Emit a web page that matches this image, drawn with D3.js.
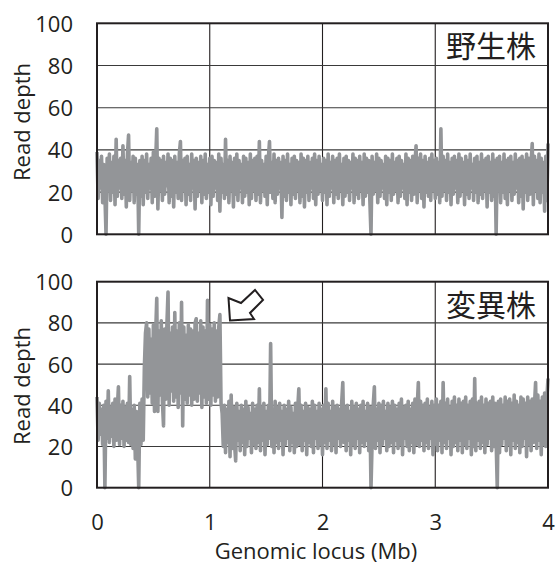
<!DOCTYPE html>
<html><head><meta charset="utf-8">
<script src="https://cdn.jsdelivr.net/npm/d3@7"></script>
<style>body{margin:0;background:#fff}svg{display:block}</style>
</head><body>
<script>
// read depth sampled every 0.01 Mb from 0 to 4 Mb
const xStepMb = 0.01;
const xTicks = [0, 1, 2, 3, 4];
const yTicks = [0, 20, 40, 60, 80, 100];
const panelLabels = ["野生株", "変異株"];
const yTitle = "Read depth";
const xTitle = "Genomic locus (Mb)";

const wildDepth = [
 39,17,35,22,37,15,33,19,0,36,21,38,16,34,20,37,14,45,18,35,
 22,36,17,42,19,35,13,38,47,16,34,21,37,15,36,19,33,0,35,18,
 37,14,35,20,38,17,33,22,36,15,39,18,34,50,12,36,21,35,16,37,
 19,34,23,38,15,36,18,35,13,37,20,34,17,38,44,16,35,21,36,14,
 37,19,33,16,38,22,35,12,36,18,34,21,37,15,35,19,38,17,33,20,
 36,14,37,18,35,22,34,16,38,11,36,20,33,17,45,19,35,15,37,21,
 34,13,36,19,38,16,35,22,33,15,37,18,36,20,34,14,38,17,35,21,
 36,16,37,19,44,15,35,21,33,18,37,14,36,44,20,34,17,38,15,35,
 19,36,22,34,8,37,18,35,16,38,20,33,14,36,19,37,17,35,21,34,
 15,38,18,36,13,35,20,37,16,34,22,36,17,38,14,35,19,37,21,33,
 16,36,20,35,14,38,18,34,22,37,15,35,19,36,17,38,21,33,14,36,
 18,37,20,35,16,34,22,38,15,36,19,35,17,37,21,34,14,38,18,36,
 20,35,16,0,37,19,34,21,38,15,36,18,35,22,33,17,37,14,36,20,
 35,16,38,19,34,21,36,15,37,18,35,22,33,17,38,14,36,20,35,16,
 37,19,34,42,15,36,21,38,17,35,13,37,20,34,18,36,16,38,21,35,
 17,36,19,34,15,50,18,37,21,35,16,38,20,34,14,36,19,37,22,35,
 15,38,18,36,21,34,14,37,19,35,17,38,22,33,16,36,20,37,15,34,
 19,38,17,35,21,36,13,37,20,34,16,38,18,35,0,36,22,37,15,34,
 20,38,17,35,14,36,21,37,16,34,19,38,22,35,15,36,18,37,12,35,
 20,38,16,36,19,34,43,14,37,21,35,17,38,15,36,20,34,11,37,16,
 43];

const mutantDepth = [
 44,23,41,26,38,21,40,0,42,24,47,22,39,25,41,20,43,23,38,49,
 21,40,24,42,20,39,23,41,22,54,21,38,19,40,14,37,22,0,41,21,
 43,23,58,75,80,44,77,46,72,41,79,37,74,92,37,76,45,81,42,30,
 77,43,79,95,40,75,47,78,42,85,44,76,39,80,46,90,30,78,43,74,
 41,79,45,77,40,76,43,80,82,42,75,46,81,39,78,44,76,41,91,43,
 79,40,77,45,80,42,76,44,78,84,41,36,20,40,17,38,22,42,15,45,
 19,39,21,13,41,23,37,18,40,22,38,16,42,20,39,24,36,17,41,21,
 38,19,40,22,48,18,39,23,41,16,37,21,40,24,70,20,38,17,42,22,
 39,19,41,23,37,16,40,21,38,24,42,18,39,22,36,17,41,20,38,48,
 21,40,18,37,23,41,16,39,22,38,20,42,17,40,24,37,19,41,21,38,
 16,40,22,48,19,41,23,37,18,42,21,39,17,40,24,38,20,41,51,22,
 39,18,40,23,37,16,42,21,39,19,41,24,38,17,40,22,42,20,37,23,
 41,18,39,0,22,40,49,19,38,23,41,17,40,21,42,24,37,18,41,20,
 39,22,42,17,40,23,38,19,41,21,43,16,39,24,40,20,42,18,38,22,
 41,17,43,21,39,51,20,42,23,40,18,41,22,43,19,39,24,42,16,40,
 21,43,18,40,23,42,17,51,22,41,19,43,24,39,16,42,20,44,22,40,
 18,43,23,41,17,42,21,44,19,40,24,42,16,43,20,53,18,41,23,42,
 19,44,22,40,17,43,21,41,24,42,18,44,20,41,23,0,42,17,43,21,
 40,24,44,18,42,21,43,16,41,23,45,19,42,22,40,17,44,20,43,24,
 41,15,44,21,42,18,43,22,40,51,19,45,23,42,16,44,21,46,20,43,
 53];

const W = 555, H = 564;
const svg = d3.select("body").append("svg").attr("width", W).attr("height", H);
const FONT = "'Open Sans', sans-serif";
const ink = "#231f20";
const lineCol = "#939598";

const x = d3.scaleLinear().domain([0, 4]).range([97, 548]);
const panels = [
  {data: wildDepth, top: 23.3, bottom: 234.3, label: panelLabels[0], labelY: 57, titleY: 122},
  {data: mutantDepth, top: 281.7, bottom: 487.7, label: panelLabels[1], labelY: 316, titleY: 386}
];

panels.forEach(p => {
  const y = d3.scaleLinear().domain([0, 100]).range([p.bottom, p.top]);
  const g = svg.append("g");
  // gridlines
  g.selectAll(".gx").data(xTicks.slice(1, -1)).join("line")
    .attr("x1", d => x(d)).attr("x2", d => x(d)).attr("y1", p.top).attr("y2", p.bottom)
    .attr("stroke", ink).attr("stroke-width", 1.1);
  g.selectAll(".gy").data(yTicks.slice(1, -1)).join("line")
    .attr("x1", x(0)).attr("x2", x(4)).attr("y1", d => y(d)).attr("y2", d => y(d))
    .attr("stroke", "#3a3a3a").attr("stroke-width", 1.1);
  // data line
  const line = d3.line().x((d, i) => x(i * xStepMb)).y(d => y(d));
  g.append("path").datum(p.data).attr("d", line)
    .attr("fill", "none").attr("stroke", lineCol).attr("stroke-width", 3.6)
    .attr("stroke-linejoin", "round");
  // frame
  g.append("rect").attr("x", x(0)).attr("y", p.top).attr("width", x(4) - x(0)).attr("height", p.bottom - p.top)
    .attr("fill", "none").attr("stroke", ink).attr("stroke-width", 2);
  // y axis
  const ay = g.append("g").attr("transform", `translate(${x(0) - 24},0)`)
    .call(d3.axisLeft(y).tickValues(yTicks).tickSize(0).tickPadding(0));
  ay.select(".domain").remove();
  ay.selectAll("text").attr("font-family", FONT).attr("font-size", 22).attr("fill", ink).attr("dy", "0.36em");
  // y title
  g.append("text").attr("transform", `translate(29.5,${p.titleY}) rotate(-90)`)
    .attr("text-anchor", "middle").attr("font-family", FONT).attr("font-size", 22).attr("fill", ink)
    .text(yTitle);
  // panel label
  g.append("text").attr("x", 491).attr("y", p.labelY).attr("text-anchor", "middle")
    .attr("font-family", "'Noto Sans CJK JP', sans-serif").attr("font-size", 30).attr("fill", ink)
    .text(p.label);
});

// x axis (bottom panel)
const ax = svg.append("g").attr("transform", "translate(0,514)")
  .call(d3.axisBottom(x).tickValues(xTicks).tickSize(0).tickPadding(0).tickFormat(d3.format("d")));
ax.select(".domain").remove();
ax.selectAll("text").attr("font-family", FONT).attr("font-size", 22).attr("fill", ink).attr("dy", "0.71em");

svg.append("text").attr("x", 316).attr("y", 559).attr("text-anchor", "middle")
  .attr("font-family", FONT).attr("font-size", 22).attr("fill", ink).text(xTitle);

// hollow arrow pointing to amplified region
const arrowPts = [[230,320.5],[228.5,298],[241,303],[255,290],[263,300],[250,313],[254,319]];
svg.append("polygon").attr("points", arrowPts.map(p => p.join(",")).join(" "))
  .attr("fill", "#fff").attr("stroke", ink).attr("stroke-width", 2).attr("stroke-linejoin", "miter");
</script>
</body></html>
